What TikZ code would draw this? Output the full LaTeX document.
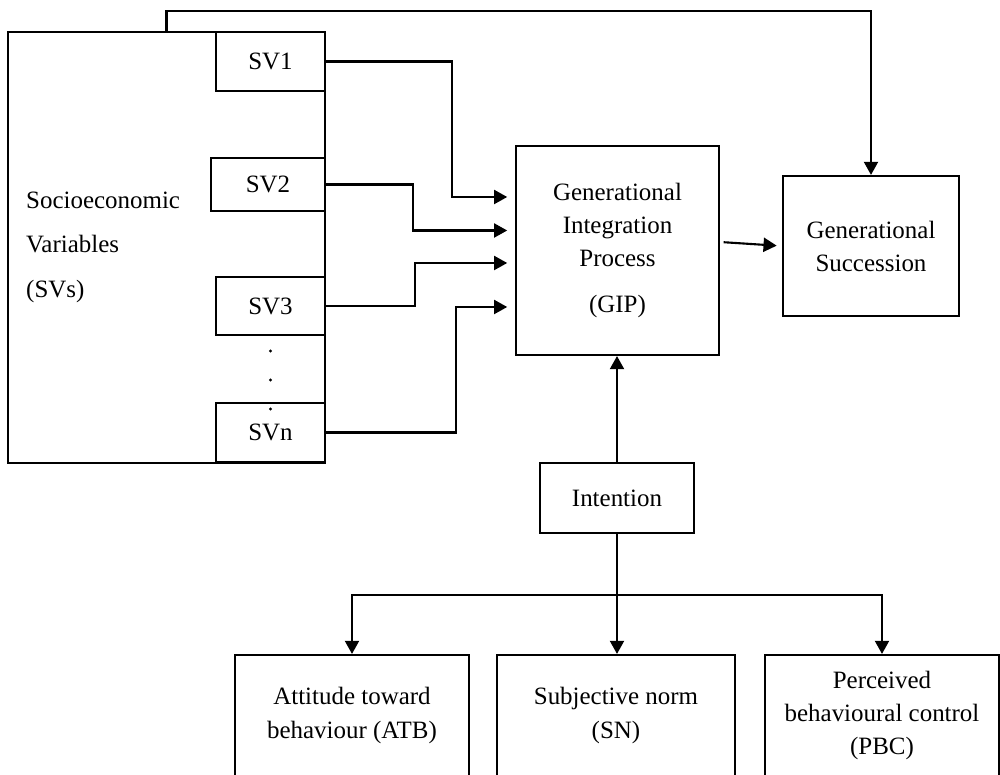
\documentclass[tikz,border=0pt]{standalone}
\usepackage{fontspec}
\setmainfont{Liberation Serif}
\usetikzlibrary{arrows.meta}

\begin{document}
\begin{tikzpicture}[every node/.style={font=\fontsize{14.2}{18.8}\selectfont},
  box/.style={draw,line width=1.2pt,inner sep=0pt,align=center},
  arr/.style={line width=1.2pt,-{Triangle[length=7.5pt,width=8pt]}}]
\useasboundingbox (0,0) rectangle (20,15.5);

\node[box,minimum width=6.34cm,minimum height=8.62cm] (svbox) at (3.33,10.55) {};
\node[anchor=west,align=left,font=\fontsize{14.2}{25.3}\selectfont] (svtext) at (0.40,10.56)
  {Socioeconomic\\Variables\\(SVs)};
\node[box,minimum width=2.18cm,minimum height=1.18cm] (sv1) at (5.41,14.27) {SV1};
\node[box,minimum width=2.28cm,minimum height=1.06cm] (sv2) at (5.36,11.81) {SV2};
\node[box,minimum width=2.18cm,minimum height=1.16cm] (sv3) at (5.41,9.38) {SV3};
\node[box,minimum width=2.18cm,minimum height=1.18cm] (svn) at (5.41,6.85) {SVn};
\foreach \y in {8.48,7.90,7.32}
  \fill (5.41,\y) circle (0.9pt);

\node[box,minimum width=4.06cm,minimum height=4.18cm] (gip) at (12.35,10.49)
  {Generational\\Integration\\Process\\[7.7pt](GIP)};
\node[box,minimum width=3.52cm,minimum height=2.80cm] (gs) at (17.42,10.58)
  {Generational\\Succession};
\node[box,minimum width=3.08cm,minimum height=1.40cm] (intention) at (12.34,5.54) {Intention};

\node[box,minimum width=4.68cm,minimum height=2.42cm] (atb) at (7.04,1.19)
  {Attitude toward\\behaviour (ATB)};
\node[box,minimum width=4.76cm,minimum height=2.42cm] (sn) at (12.32,1.19)
  {Subjective norm\\(SN)};
\node[box,minimum width=4.68cm,minimum height=2.42cm] (pbc) at (17.64,1.19)
  {Perceived\\behavioural control\\(PBC)};

\coordinate (fb) at (17.42,15.28);
\draw[arr] (svbox.north) |- (fb) -- (gs.north);

\coordinate (in1) at (10.32,11.56);
\coordinate (in2) at (10.32,10.89);
\coordinate (in3) at (10.32,10.24);
\coordinate (in4) at (10.32,9.36);
\draw[arr,shorten >=5pt] (sv1.east) -| (9.04,11.56) -- (in1);
\draw[arr,shorten >=5pt] (sv2.east) -| (8.26,10.89) -- (in2);
\draw[arr,shorten >=5pt] (sv3.east) -| (8.30,10.24) -- (in3);
\draw[arr,shorten >=5pt] (svn.east) -| (9.12,9.36) -- (in4);

\draw[arr,shorten <=2pt,shorten >=3pt] ([yshift=1.7mm]gip.east) -- (gs.west);
\draw[arr] (intention.north) -- (intention.north |- gip.south);

\coordinate (split) at (12.34,3.60);
\draw[line width=1.2pt] (intention.south) -- (split);
\draw[arr] (split) -| (atb.north);
\draw[arr] (split) -- (split |- sn.north);
\draw[arr] (split) -| (pbc.north);
\end{tikzpicture}
\end{document}
